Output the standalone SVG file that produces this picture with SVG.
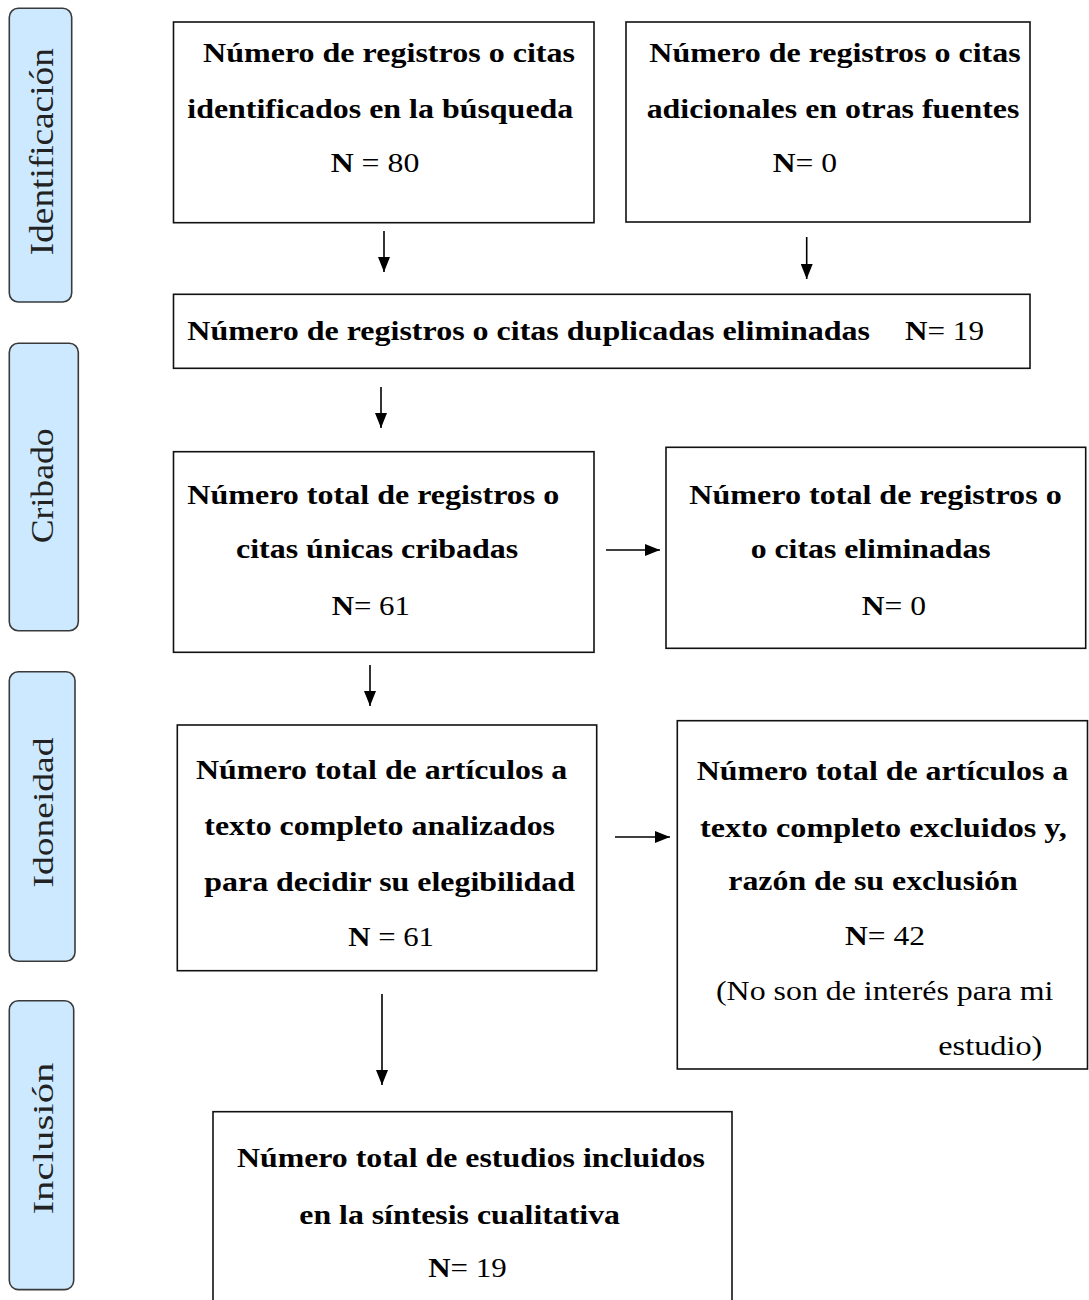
<svg xmlns="http://www.w3.org/2000/svg" width="1089" height="1300" viewBox="0 0 1089 1300">
<style>
.box{fill:#fff;stroke:#111;stroke-width:1.6}
.lab{fill:#cce9ff;stroke:#3a3a3a;stroke-width:1.6}
.t{font-size:27px;fill:#000}
.b{font-weight:bold}
.side{fill:#222;text-anchor:middle}
.conn line{stroke:#000;stroke-width:1.6;marker-end:url(#ah)}
</style>
<defs>
<marker id="ah" markerUnits="userSpaceOnUse" markerWidth="15" markerHeight="12" refX="15" refY="6" orient="auto">
<path d="M0,0 L15,6 L0,12 z" fill="#000"/>
</marker>
</defs>
<rect width="1089" height="1300" fill="#fff"/>
<g font-family="Liberation Serif, DejaVu Serif Condensed, DejaVu Serif, serif">
<g id="label-identificacion">
<rect class="lab" x="9.3" y="8.3" width="62.4" height="293.7" rx="9"/>
<text class="side" font-size="33" transform="translate(53,151.7) rotate(-90)" textLength="207" lengthAdjust="spacingAndGlyphs">Identificación</text>
</g>
<g id="label-cribado">
<rect class="lab" x="9.3" y="343.3" width="69" height="287.4" rx="9"/>
<text class="side" font-size="32" transform="translate(53,485.8) rotate(-90)" textLength="115" lengthAdjust="spacingAndGlyphs">Cribado</text>
</g>
<g id="label-idoneidad">
<rect class="lab" x="9.3" y="671.7" width="65.7" height="289.5" rx="9"/>
<text class="side" font-size="30" transform="translate(53,812.5) rotate(-90)" textLength="150" lengthAdjust="spacingAndGlyphs">Idoneidad</text>
</g>
<g id="label-inclusion">
<rect class="lab" x="9.3" y="1000.8" width="64.4" height="288.8" rx="9"/>
<text class="side" font-size="30" transform="translate(53,1138.5) rotate(-90)" textLength="152" lengthAdjust="spacingAndGlyphs">Inclusión</text>
</g>

<g id="box-identificados">
<rect class="box" x="173.5" y="22" width="420.5" height="200.7"/>
<text class="t b" x="203" y="62" textLength="372" lengthAdjust="spacingAndGlyphs">Número de registros o citas</text>
<text class="t b" x="187.3" y="118" textLength="386" lengthAdjust="spacingAndGlyphs">identificados en la búsqueda</text>
<text class="t" x="330.7" y="172" textLength="88.6" lengthAdjust="spacingAndGlyphs"><tspan class="b">N</tspan> = 80</text>
</g>

<g id="box-adicionales">
<rect class="box" x="626" y="22" width="404" height="200"/>
<text class="t b" x="649.3" y="62" textLength="371.4" lengthAdjust="spacingAndGlyphs">Número de registros o citas</text>
<text class="t b" x="646.7" y="118" textLength="372.6" lengthAdjust="spacingAndGlyphs">adicionales en otras fuentes</text>
<text class="t" x="772.7" y="172" textLength="64.3" lengthAdjust="spacingAndGlyphs"><tspan class="b">N</tspan>= 0</text>
</g>

<g id="box-duplicadas">
<rect class="box" x="173.5" y="294.3" width="856.5" height="74"/>
<text class="t b" x="187.3" y="340" textLength="682.7" lengthAdjust="spacingAndGlyphs">Número de registros o citas duplicadas eliminadas</text>
<text class="t" x="905" y="340" textLength="79" lengthAdjust="spacingAndGlyphs"><tspan class="b">N</tspan>= 19</text>
</g>

<g id="box-cribadas">
<rect class="box" x="173.5" y="451.7" width="420.5" height="200.6"/>
<text class="t b" x="187.3" y="504" textLength="372" lengthAdjust="spacingAndGlyphs">Número total de registros o</text>
<text class="t b" x="236" y="558" textLength="282.3" lengthAdjust="spacingAndGlyphs">citas únicas cribadas</text>
<text class="t" x="331.7" y="615" textLength="78.3" lengthAdjust="spacingAndGlyphs"><tspan class="b">N</tspan>= 61</text>
</g>

<g id="box-eliminadas">
<rect class="box" x="666" y="447.3" width="419.7" height="201"/>
<text class="t b" x="689.3" y="504" textLength="372.4" lengthAdjust="spacingAndGlyphs">Número total de registros o</text>
<text class="t b" x="750.7" y="558" textLength="240" lengthAdjust="spacingAndGlyphs">o citas eliminadas</text>
<text class="t" x="861.7" y="615" textLength="64.3" lengthAdjust="spacingAndGlyphs"><tspan class="b">N</tspan>= 0</text>
</g>

<g id="box-analizados">
<rect class="box" x="177.3" y="725" width="419.4" height="245.7"/>
<text class="t b" x="196" y="779" textLength="371.3" lengthAdjust="spacingAndGlyphs">Número total de artículos a</text>
<text class="t b" x="204.3" y="835" textLength="350.7" lengthAdjust="spacingAndGlyphs">texto completo analizados</text>
<text class="t b" x="204.3" y="891" textLength="370.7" lengthAdjust="spacingAndGlyphs">para decidir su elegibilidad</text>
<text class="t" x="348.3" y="946" textLength="85.7" lengthAdjust="spacingAndGlyphs"><tspan class="b">N</tspan> = 61</text>
</g>

<g id="box-excluidos">
<rect class="box" x="677.3" y="720.7" width="410.2" height="348.3"/>
<text class="t b" x="696.7" y="780" textLength="371.6" lengthAdjust="spacingAndGlyphs">Número total de artículos a</text>
<text class="t b" x="700" y="836.7" textLength="366.7" lengthAdjust="spacingAndGlyphs">texto completo excluidos y,</text>
<text class="t b" x="728.3" y="890" textLength="289.4" lengthAdjust="spacingAndGlyphs">razón de su exclusión</text>
<text class="t" x="845" y="945" textLength="80" lengthAdjust="spacingAndGlyphs"><tspan class="b">N</tspan>= 42</text>
<text class="t" x="716" y="1000" textLength="337.3" lengthAdjust="spacingAndGlyphs">(No son de interés para mi</text>
<text class="t" x="938.3" y="1055" textLength="104" lengthAdjust="spacingAndGlyphs">estudio)</text>
</g>

<g id="box-incluidos">
<rect class="box" x="213" y="1111.7" width="519" height="200"/>
<text class="t b" x="237" y="1167" textLength="468" lengthAdjust="spacingAndGlyphs">Número total de estudios incluidos</text>
<text class="t b" x="299.3" y="1224" textLength="320.7" lengthAdjust="spacingAndGlyphs">en la síntesis cualitativa</text>
<text class="t" x="428.3" y="1277" textLength="78.4" lengthAdjust="spacingAndGlyphs"><tspan class="b">N</tspan>= 19</text>
</g>
</g>
<g id="connectors" class="conn">
<line x1="384" y1="231" x2="384" y2="272"/>
<line x1="806.7" y1="237" x2="806.7" y2="279"/>
<line x1="381" y1="387" x2="381" y2="428"/>
<line x1="606" y1="550" x2="660" y2="550"/>
<line x1="370" y1="665" x2="370" y2="706"/>
<line x1="615" y1="837" x2="670" y2="837"/>
<line x1="382" y1="994" x2="382" y2="1085"/>
</g>
</svg>
